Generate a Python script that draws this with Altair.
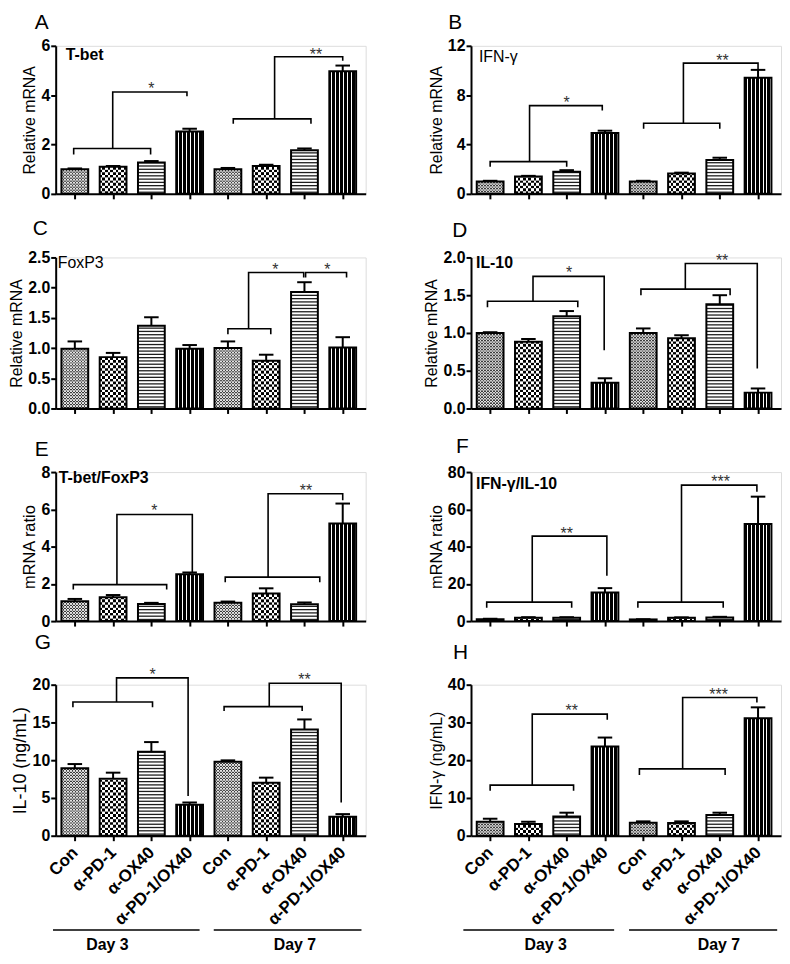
import altair as alt
import pandas as pd

FONT = "Liberation Sans"

# ---------------- data ----------------
GROUPS = ["Con", "α-PD-1", "α-OX40", "α-PD-1/OX40"]
DAYS = ["Day 3", "Day 7"]

LETTERS = ["A", "B", "C", "D", "E", "F", "G", "H"]
GENE_LABELS = ["T-bet", "IFN-γ", "FoxP3", "IL-10", "T-bet/FoxP3", "IFN-γ/IL-10", "", ""]
Y_TITLES = ["Relative mRNA", "Relative mRNA", "Relative mRNA", "Relative mRNA",
            "mRNA ratio", "mRNA ratio", "IL-10 (ng/mL)", "IFN-γ (ng/mL)"]
Y_MAX = [6, 12, 2.5, 2.0, 8, 80, 20, 40]
Y_TICKS = [[0, 2, 4, 6], [0, 4, 8, 12], [0, 0.5, 1, 1.5, 2, 2.5], [0, 0.5, 1, 1.5, 2],
           [0, 2, 4, 6, 8], [0, 20, 40, 60, 80], [0, 5, 10, 15, 20], [0, 10, 20, 30, 40]]
Y_FMT = ["d", "d", ".1f", ".1f", "d", "d", "d", "d"]

TBET_MEAN = [1.00, 1.10, 1.27, 2.53, 1.00, 1.13, 1.77, 4.97]
TBET_SEM = [0.03, 0.03, 0.06, 0.11, 0.05, 0.05, 0.07, 0.23]
IFNG_MRNA_MEAN = [1.01, 1.41, 1.79, 4.93, 1.01, 1.65, 2.75, 9.41]
IFNG_MRNA_SEM = [0.05, 0.05, 0.13, 0.19, 0.05, 0.07, 0.18, 0.64]
FOXP3_MEAN = [0.99, 0.85, 1.37, 0.99, 1.00, 0.79, 1.93, 1.01]
FOXP3_SEM = [0.12, 0.07, 0.14, 0.06, 0.11, 0.10, 0.16, 0.17]
IL10_MRNA_MEAN = [1.00, 0.885, 1.22, 0.34, 1.00, 0.93, 1.38, 0.21]
IL10_MRNA_SEM = [0.01, 0.035, 0.07, 0.06, 0.06, 0.04, 0.12, 0.055]
TBET_FOXP3_MEAN = [1.07, 1.28, 0.92, 2.52, 0.98, 1.48, 0.91, 5.24]
TBET_FOXP3_SEM = [0.12, 0.12, 0.06, 0.09, 0.07, 0.28, 0.09, 1.07]
IFNG_IL10_MEAN = [1.06, 1.8, 1.8, 15.4, 0.9, 1.8, 1.9, 52.1]
IFNG_IL10_SEM = [0.2, 0.3, 0.3, 2.3, 0.1, 0.2, 0.4, 14.7]
IL10_PROT_MEAN = [8.92, 7.56, 11.12, 4.09, 9.80, 7.03, 14.07, 2.50]
IL10_PROT_SEM = [0.57, 0.79, 1.28, 0.31, 0.18, 0.66, 1.33, 0.36]
IFNG_PROT_MEAN = [3.7, 3.1, 5.1, 23.6, 3.44, 3.35, 5.5, 31.1]
IFNG_PROT_SEM = [0.8, 0.6, 1.0, 2.4, 0.36, 0.45, 0.6, 2.9]

# significance brackets: polylines in (bar index, value) units
A_PATHS = [[(-0.03, 1.60), (-0.03, 1.84), (1.98, 1.84), (1.98, 1.60)],
           [(0.99, 1.84), (0.99, 4.13), (2.93, 4.13), (2.93, 3.96)],
           [(4.14, 2.84), (4.14, 3.04), (6.17, 3.04), (6.17, 2.84)],
           [(5.22, 3.04), (5.22, 5.56), (7.00, 5.56), (7.00, 5.40)]]
A_STARS = [(2.0, 4.4, "*"), (6.3, 5.8, "**")]
B_PATHS = [[(0.0, 2.19), (0.0, 2.61), (2.0, 2.61), (2.0, 2.19)],
           [(1.03, 2.61), (1.03, 7.15), (2.93, 7.15), (2.93, 6.75)],
           [(4.01, 5.28), (4.01, 5.73), (6.0, 5.73), (6.0, 5.28)],
           [(5.05, 5.73), (5.05, 10.6), (7.0, 10.6), (7.0, 10.13)]]
B_STARS = [(2.0, 7.7, "*"), (6.07, 11.07, "**")]
C_PATHS = [[(4.0, 1.23), (4.0, 1.32), (5.12, 1.32), (5.12, 1.23)],
           [(4.54, 1.32), (4.54, 2.25), (5.98, 2.25), (5.98, 2.17)],
           [(6.03, 2.17), (6.03, 2.25), (7.1, 2.25), (7.1, 2.17)]]
C_STARS = [(5.24, 2.36, "*"), (6.6, 2.36, "*")]
D_PATHS = [[(-0.07, 1.34), (-0.07, 1.42), (2.29, 1.42), (2.29, 1.34)],
           [(1.12, 1.42), (1.12, 1.75), (2.98, 1.75), (2.98, 0.77)],
           [(3.94, 1.50), (3.94, 1.58), (6.27, 1.58), (6.27, 1.50)],
           [(5.1, 1.58), (5.1, 1.92), (6.98, 1.92), (6.98, 0.53)]]
D_STARS = [(2.06, 1.84, "*"), (6.06, 2.01, "**")]
E_PATHS = [[(-0.04, 1.69), (-0.04, 1.96), (2.4, 1.96), (2.4, 1.69)],
           [(1.1, 1.96), (1.1, 5.72), (3.07, 5.72), (3.07, 2.58)],
           [(3.93, 2.08), (3.93, 2.36), (6.4, 2.36), (6.4, 2.08)],
           [(5.05, 2.36), (5.05, 6.84), (7.0, 6.84), (7.0, 6.49)]]
E_STARS = [(2.08, 6.13, "*"), (6.04, 7.2, "**")]
F_PATHS = [[(-0.09, 7.2), (-0.09, 10.2), (2.13, 10.2), (2.13, 7.2)],
           [(1.1, 10.2), (1.1, 45.6), (3.05, 45.6), (3.05, 24.4)],
           [(3.86, 7.2), (3.86, 10.2), (6.09, 10.2), (6.09, 7.2)],
           [(5.0, 10.2), (5.0, 73.0), (6.97, 73.0), (6.97, 69.4)]]
F_STARS = [(2.0, 49.1, "**"), (6.02, 76.9, "***")]
G_PATHS = [[(-0.05, 17.0), (-0.05, 17.7), (2.03, 17.7), (2.03, 17.0)],
           [(1.09, 17.7), (1.09, 20.9), (2.96, 20.9), (2.96, 5.27)],
           [(3.9, 16.5), (3.9, 17.1), (5.94, 17.1), (5.94, 16.5)],
           [(5.08, 17.1), (5.08, 20.2), (6.96, 20.2), (6.96, 4.4)]]
G_STARS = [(2.03, 21.8, "*"), (6.0, 21.1, "**")]
H_PATHS = [[(0.0, 11.9), (0.0, 13.4), (2.18, 13.4), (2.18, 11.9)],
           [(1.1, 13.4), (1.1, 32.2), (3.06, 32.2), (3.06, 30.7)],
           [(3.9, 16.1), (3.9, 17.7), (6.14, 17.7), (6.14, 16.1)],
           [(5.03, 17.7), (5.03, 36.6), (6.97, 36.6), (6.97, 35.3)]]
H_STARS = [(2.13, 34.0, "**"), (5.97, 38.4, "***")]

G_DAY_LINES = [(-0.57, 3.26), (3.63, 7.49)]
G_DAY_TEXT_X = [0.85, 5.75]
H_DAY_LINES = [(-0.70, 3.24), (3.63, 7.50)]
H_DAY_TEXT_X = [1.45, 5.98]

# ---------------- style ----------------
W = 312
HALF = 0.35   # half bar width (index units)
CAP = 0.19    # half error-cap width
XS = alt.Scale(domain=[-0.5, 7.6], nice=False, zero=False)
LABEL_EXPR = "[" + ",".join("'" + g + "'" for g in GROUPS) + "][datum.value % 4]"

TITLE_DX = [-21, -23, -23, -19, -21, -15, -21, -18]
TITLE_UP = [16, 16, 22, 20, 15, 18, 25, 25]
GENE_POS = [(10, 1), (8, 3), (2, -2), (5, -2), (3, -2), (5, 4), (0, 0), (0, 0)]
GENE_WEIGHT = ["bold", "normal", "normal", "bold", "bold", "bold", "bold", "bold"]
YTITLE_SIZE = [16, 16, 16, 16, 16.5, 16.5, 18, 16]


def grad_cells(colors):
    n = len(colors)
    stops = []
    for k, c in enumerate(colors):
        stops.append(alt.GradientStop(color=c, offset=k / n))
        stops.append(alt.GradientStop(color=c, offset=(k + 1) / n))
    return alt.LinearGradient(gradient="linear", stops=stops, x1=0, x2=1, y1=0, y2=0)


COMBO_GRAD = grad_cells(["white" if k % 4 == 2 else "black" for k in range(27)])
PD1_A = grad_cells(["black" if k % 2 == 0 else "white" for k in range(10)])
PD1_B = grad_cells(["white" if k % 2 == 0 else "black" for k in range(10)])
CON_A = grad_cells(["#3a3a3a" if k % 2 == 0 else "#e4e4e4" for k in range(18)])
CON_B = grad_cells(["#e4e4e4" if k % 2 == 0 else "#3a3a3a" for k in range(18)])


def make_panel(i, means, sems, paths, stars, h, xlabels=False, day_lines=None, day_tx=None):
    ymax = Y_MAX[i]
    ys = alt.Scale(domain=[0, ymax], nice=False, zero=True)
    xaxis = alt.Axis(values=list(range(8)), labels=xlabels, labelExpr=LABEL_EXPR,
                     labelAngle=-45, labelAlign="right", labelBaseline="middle",
                     labelFont=FONT, labelFontSize=17, labelFontWeight="bold",
                     labelColor="black", labelPadding=9, labelOverlap=False,
                     grid=False, title=None, domainColor="black", domainWidth=2,
                     tickColor="black", tickWidth=2, tickSize=5)
    yaxis = alt.Axis(values=Y_TICKS[i], format=Y_FMT[i], title=Y_TITLES[i], grid=False,
                     domainColor="black", domainWidth=2, tickColor="black", tickWidth=2,
                     tickSize=5, labelFont=FONT, labelFontSize=16, labelFontWeight="bold",
                     labelColor="black", labelPadding=1, titleFont=FONT,
                     titleFontSize=YTITLE_SIZE[i], titleFontWeight="normal",
                     titleColor="black", titlePadding=3)

    def X(f):
        return alt.X(f, type="quantitative", scale=XS, axis=xaxis)

    def Y(f):
        return alt.Y(f, type="quantitative", scale=ys, axis=yaxis)

    df = pd.DataFrame({"idx": list(range(8)), "grp": [k % 4 for k in range(8)],
                       "mean": means, "sem": sems})
    base = alt.Chart(df).transform_calculate(
        x0=f"datum.idx - {HALF}", x1=f"datum.idx + {HALF}",
        c0=f"datum.idx - {CAP}", c1=f"datum.idx + {CAP}",
        top="datum.mean + datum.sem", zero="0")
    enc = dict(x=X("x0:Q"), x2="x1:Q", y=Y("mean:Q"), y2="zero:Q")

    layers = []
    layers.append(base.transform_filter("datum.grp < 3").mark_rect(fill="white").encode(**enc))
    layers.append(base.transform_filter("datum.grp == 3").mark_rect(fill=COMBO_GRAD).encode(**enc))

    def checker(gid, step_px, ga, gb):
        step = step_px * ymax / h
        c = (base.transform_filter(f"datum.grp == {gid}")
             .transform_calculate(r=f"sequence(0, datum.mean, {step})")
             .transform_flatten(["r"])
             .transform_calculate(r2=f"min(datum.r + {step * 1.1}, datum.mean)",
                                  par=f"round(datum.r / {step}) % 2"))
        e = dict(x=X("x0:Q"), x2="x1:Q", y=Y("r:Q"), y2="r2:Q")
        return [c.transform_filter("datum.par == 0").mark_rect(fill=ga).encode(**e),
                c.transform_filter("datum.par == 1").mark_rect(fill=gb).encode(**e)]

    layers += checker(0, 1.5, CON_A, CON_B)
    layers += checker(1, 2.7, PD1_A, PD1_B)

    st = 3.3 * ymax / h
    layers.append(base.transform_filter("datum.grp == 2")
                  .transform_calculate(r=f"sequence({st / 2}, datum.mean, {st})")
                  .transform_flatten(["r"])
                  .mark_rule(color="#1e1e1e", strokeWidth=1.3)
                  .encode(x=X("x0:Q"), x2="x1:Q", y=Y("r:Q")))

    layers.append(base.mark_rect(fillOpacity=0, stroke="black", strokeWidth=2).encode(**enc))
    layers.append(base.mark_rule(color="black", strokeWidth=2)
                  .encode(x=X("idx:Q"), y=Y("mean:Q"), y2="top:Q"))
    layers.append(base.mark_rule(color="black", strokeWidth=2)
                  .encode(x=X("c0:Q"), x2="c1:Q", y=Y("top:Q")))

    rows = []
    for pi, path in enumerate(paths):
        for oi, (x, y) in enumerate(path):
            rows.append({"path": pi, "ord": oi, "x": x, "y": y})
    layers.append(alt.Chart(pd.DataFrame(rows))
                  .mark_line(color="black", strokeWidth=1.6, strokeJoin="miter")
                  .encode(x=X("x:Q"), y=Y("y:Q"), detail="path:N", order="ord:Q"))

    sdf = pd.DataFrame(stars, columns=["x", "y", "label"])
    layers.append(alt.Chart(sdf).mark_text(font=FONT, fontSize=16, color="#333333",
                                           baseline="middle", dy=4)
                  .encode(x=X("x:Q"), y=Y("y:Q"), text="label:N"))

    if GENE_LABELS[i]:
        gx, gy = GENE_POS[i]
        layers.append(alt.Chart(pd.DataFrame({"label": [GENE_LABELS[i]]}))
                      .mark_text(font=FONT, fontSize=16, fontWeight=GENE_WEIGHT[i],
                                 align="left", baseline="top", color="black")
                      .encode(x=alt.value(gx), y=alt.value(gy), text="label:N"))

    if day_lines:
        ddf = pd.DataFrame({"x0": [a for a, b in day_lines], "x1": [b for a, b in day_lines],
                            "tx": day_tx, "label": DAYS})
        layers.append(alt.Chart(ddf).mark_rule(color="black", strokeWidth=1.5)
                      .encode(x=X("x0:Q"), x2="x1:Q", y=alt.value(h + 95)))
        layers.append(alt.Chart(ddf).mark_text(font=FONT, fontSize=16, fontWeight="bold",
                                               color="black", baseline="middle")
                      .encode(x=X("tx:Q"), y=alt.value(h + 110), text="label:N"))

    return alt.layer(*layers).properties(
        width=W, height=h,
        title=alt.TitleParams(text=LETTERS[i], anchor="start", frame="group",
                              dx=TITLE_DX[i], offset=TITLE_UP[i] - 28, baseline="alphabetic",
                              font=FONT, fontSize=21, fontWeight="normal", color="black"))


pA = make_panel(0, TBET_MEAN, TBET_SEM, A_PATHS, A_STARS, 149)
pB = make_panel(1, IFNG_MRNA_MEAN, IFNG_MRNA_SEM, B_PATHS, B_STARS, 149)
pC = make_panel(2, FOXP3_MEAN, FOXP3_SEM, C_PATHS, C_STARS, 152)
pD = make_panel(3, IL10_MRNA_MEAN, IL10_MRNA_SEM, D_PATHS, D_STARS, 152)
pE = make_panel(4, TBET_FOXP3_MEAN, TBET_FOXP3_SEM, E_PATHS, E_STARS, 150)
pF = make_panel(5, IFNG_IL10_MEAN, IFNG_IL10_SEM, F_PATHS, F_STARS, 150)
pG = make_panel(6, IL10_PROT_MEAN, IL10_PROT_SEM, G_PATHS, G_STARS, 152, True, G_DAY_LINES, G_DAY_TEXT_X)
pH = make_panel(7, IFNG_PROT_MEAN, IFNG_PROT_SEM, H_PATHS, H_STARS, 152, True, H_DAY_LINES, H_DAY_TEXT_X)

chart = (alt.concat(pA, pB, pC, pD, pE, pF, pG, pH, columns=2,
                    spacing={"row": 64, "column": 106}, bounds="flush")
         .properties(padding={"left": 0, "top": 0, "right": 0, "bottom": 0})
         .configure_view(stroke=None)
         .configure(font=FONT, background="white"))

chart.save("out.html", embed_options={"renderer": "svg", "actions": False})
